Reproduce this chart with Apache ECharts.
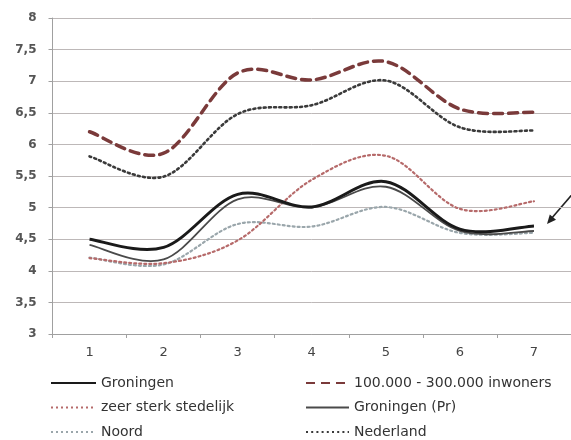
<!DOCTYPE html>
<html>
<head>
<meta charset="utf-8">
<script src="https://cdn.jsdelivr.net/npm/echarts@6/dist/echarts.min.js"></script>
<style>
html,body{margin:0;padding:0;background:#fff;}
#c{width:571px;height:440px;}
</style>
</head>
<body>
<div id="c"></div>
<script>
var categories = ['1','2','3','4','5','6','7'];
var groningen = [4.50, 4.37, 5.21, 5.01, 5.41, 4.66, 4.71];
var inwoners100k = [6.20, 5.86, 7.13, 7.02, 7.31, 6.56, 6.51];
var zeerSterkStedelijk = [4.20, 4.12, 4.48, 5.44, 5.82, 4.98, 5.10];
var groningenPr = [4.41, 4.18, 5.13, 5.00, 5.33, 4.63, 4.63];
var noord = [4.21, 4.10, 4.74, 4.70, 5.01, 4.60, 4.60];
var nederland = [5.81, 5.49, 6.48, 6.62, 7.01, 6.27, 6.22];
var yTicks = [3, 3.5, 4, 4.5, 5, 5.5, 6, 6.5, 7, 7.5, 8];

var FONT = 'DejaVu Sans';
var chart = echarts.init(document.getElementById('c'), null, {renderer: 'canvas'});

var styles = {
  'Groningen': {values: groningen, color: '#1a1a1a', width: 3, dash: null, z: 6},
  '100.000 - 300.000 inwoners': {values: inwoners100k, color: '#7a3a3a', width: 3.5, dash: [9, 6], z: 4},
  'zeer sterk stedelijk': {values: zeerSterkStedelijk, color: '#b66a6a', width: 2.2, dash: [2, 3], z: 2},
  'Groningen (Pr)': {values: groningenPr, color: '#4a4a4a', width: 1.8, dash: null, z: 5},
  'Noord': {values: noord, color: '#9aa6ab', width: 2.2, dash: [2, 3], z: 1},
  'Nederland': {values: nederland, color: '#3a3a3a', width: 2.6, dash: [2, 3.2], z: 3}
};

// legend carrier (line series, invisible strokes) + Excel-like smoothed curve (custom series via api.coord)
var series = [];
Object.keys(styles).forEach(function (name) {
  var s = styles[name];
  series.push({
    name: name, type: 'line', data: s.values, symbol: 'none', showSymbol: false,
    lineStyle: {color: s.color, width: s.width, type: s.dash ? s.dash : 'solid', opacity: 0},
    itemStyle: {color: s.color},
    emphasis: {disabled: true}, silent: true, animation: false
  });
  series.push({
    type: 'custom', silent: true, animation: false, z: 2 + s.z,
    data: s.values.map(function (v, i) { return [i, v]; }),
    encode: {x: 0, y: 1},
    renderItem: function (params, api) {
      if (params.dataIndex !== 0) return null;
      var vals = s.values, n = vals.length;
      var p = vals.map(function (v, i) { return api.coord([i, v]); });
      var d = 'M' + p[0][0] + ' ' + p[0][1];
      for (var i = 0; i < n - 1; i++) {
        var p0 = p[Math.max(i - 1, 0)], p1 = p[i], p2 = p[i + 1], p3 = p[Math.min(i + 2, n - 1)];
        var c1x = p1[0] + (p2[0] - p0[0]) / 6, c1y = p1[1] + (p2[1] - p0[1]) / 6;
        var c2x = p2[0] - (p3[0] - p1[0]) / 6, c2y = p2[1] - (p3[1] - p1[1]) / 6;
        d += ' C' + c1x + ' ' + c1y + ' ' + c2x + ' ' + c2y + ' ' + p2[0] + ' ' + p2[1];
      }
      return {
        type: 'path', shape: {pathData: d},
        style: {fill: null, stroke: s.color, lineWidth: s.width,
          lineDash: s.dash || null, lineCap: s.dash ? 'round' : 'butt', lineJoin: 'round'}
      };
    }
  });
});

var legendCommon = {
  orient: 'vertical', padding: 0, itemGap: 10.5, itemHeight: 14,
  textStyle: {fontFamily: FONT, fontSize: 14, color: '#333', lineHeight: 14},
  lineStyle: {opacity: 1},
  itemStyle: {opacity: 0}
};

chart.setOption({
  animation: false,
  backgroundColor: '#ffffff',
  grid: {left: 52.5, top: 18, right: -4, bottom: 106, containLabel: false},
  xAxis: {
    type: 'category', data: categories, boundaryGap: true,
    axisLine: {lineStyle: {color: '#a0a0a0', width: 1}},
    axisTick: {show: true, length: 4, lineStyle: {color: '#a0a0a0'}},
    axisLabel: {fontFamily: FONT, fontSize: 13, color: '#444', margin: 12},
    splitLine: {show: false}
  },
  yAxis: {
    type: 'value', min: yTicks[0], max: yTicks[yTicks.length - 1], interval: 0.5,
    axisLine: {show: true, lineStyle: {color: '#a0a0a0', width: 1}},
    axisTick: {show: true, length: 4, lineStyle: {color: '#a0a0a0'}},
    axisLabel: {fontFamily: FONT, fontSize: 12, fontWeight: 'bold', color: '#555', margin: 16,
      formatter: function (v) { return String(v).replace('.', ','); }},
    splitLine: {show: true, lineStyle: {color: '#bdb8b8', width: 1}}
  },
  legend: [
    Object.assign({}, legendCommon, {left: 50, top: 376, itemWidth: 45,
      data: ['Groningen', 'zeer sterk stedelijk', 'Noord']}),
    Object.assign({}, legendCommon, {left: 305, top: 376, itemWidth: 43,
      data: ['100.000 - 300.000 inwoners', 'Groningen (Pr)', 'Nederland']})
  ],
  series: series,
  graphic: [
    {type: 'line', shape: {x1: 576, y1: 190, x2: 551, y2: 219},
     style: {stroke: '#222', lineWidth: 1.6}, silent: true},
    {type: 'polygon', shape: {points: [[547, 224], [556, 219.8], [549.8, 214.4]]},
     style: {fill: '#222'}, silent: true}
  ]
});
</script>
</body>
</html>
